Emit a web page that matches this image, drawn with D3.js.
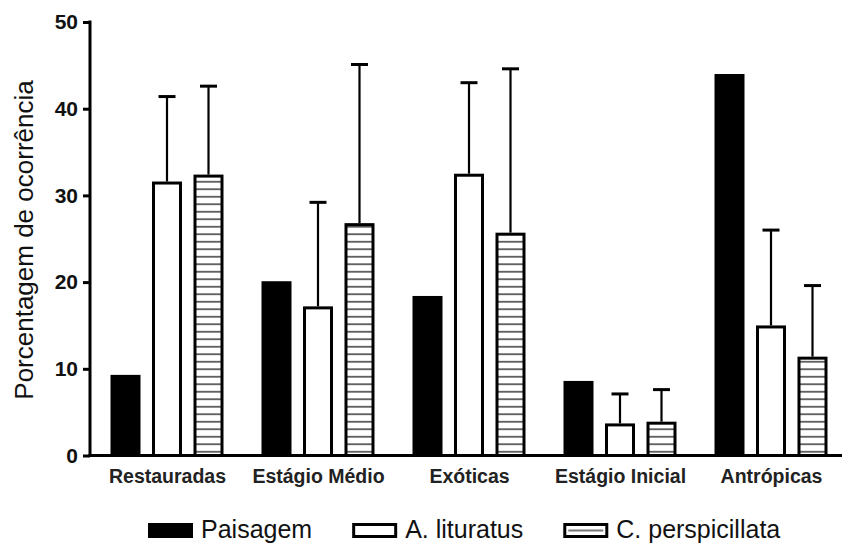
<!DOCTYPE html>
<html>
<head>
<meta charset="utf-8">
<script src="https://cdn.jsdelivr.net/npm/d3@7"></script>
<style>
  body { margin: 0; background: #fff; }
  svg { display: block; font-family: "Liberation Sans", Arial, sans-serif; }
</style>
</head>
<body>
<div id="chart"></div>
<script>
// data
const categories = ["Restauradas", "Estágio Médio", "Exóticas", "Estágio Inicial", "Antrópicas"];
const series = ["Paisagem", "A. lituratus", "C. perspicillata"];
const paisagem = [9.3, 20.1, 18.4, 8.6, 44.0];
const lituratus = [31.6, 17.2, 32.5, 3.7, 15.0];
const lituratusErr = [9.8, 12.0, 10.5, 3.4, 11.0];
const perspicillata = [32.4, 26.8, 25.7, 3.9, 11.4];
const perspicillataErr = [10.2, 18.3, 18.9, 3.7, 8.2];
const yTicks = [0, 10, 20, 30, 40, 50];
const yTitle = "Porcentagem de ocorrência";

const values = [paisagem, lituratus, perspicillata];
const errors = [null, lituratusErr, perspicillataErr];

const width = 842, height = 544;
const barW = 30;

const svg = d3.select("#chart").append("svg")
    .attr("width", width)
    .attr("height", height);

const defs = svg.append("defs");
const pat = defs.append("pattern")
    .attr("id", "hatch")
    .attr("patternUnits", "userSpaceOnUse")
    .attr("width", 10)
    .attr("height", 7.5)
    .attr("y", 455.5);
pat.append("rect").attr("width", 10).attr("height", 7.5).attr("fill", "#fff");
pat.append("line")
    .attr("x1", 0).attr("x2", 10)
    .attr("y1", 3.75).attr("y2", 3.75)
    .attr("stroke", "#5a5a5a")
    .attr("stroke-width", 1.8);

/* scales */
const x = d3.scaleBand()
    .domain(categories)
    .range([92, 847])
    .padding(0);

const xSub = d3.scaleBand()
    .domain(series)
    .range([18.5, 131.5])
    .paddingInner(0.277);

const y = d3.scaleLinear()
    .domain([0, 50])
    .range([455.5, 22]);

const fills = ["#000", "#fff", "url(#hatch)"];

/* bars */
const rows = [];
categories.forEach((c, i) => {
    series.forEach((s, j) => {
        rows.push({ cat: c, ser: s, j: j, v: values[j][i], e: errors[j] ? errors[j][i] : null });
    });
});

const bar = svg.append("g").selectAll("g")
    .data(rows)
    .enter().append("g");

bar.append("rect")
    .attr("x", d => x(d.cat) + xSub(d.ser) + (xSub.bandwidth() - barW) / 2 + 1.5)
    .attr("y", d => y(d.v) + 1.5)
    .attr("width", barW - 3)
    .attr("height", d => y(0) - y(d.v) - 1.5)
    .attr("fill", d => fills[d.j])
    .attr("stroke", "#000")
    .attr("stroke-width", 3);

// error bars, upper half only
const eb = bar.filter(d => d.e != null);
const cx = d => x(d.cat) + xSub(d.ser) + xSub.bandwidth() / 2;
eb.append("line")
    .attr("x1", cx).attr("x2", cx)
    .attr("y1", d => y(d.v))
    .attr("y2", d => y(d.v + d.e))
    .attr("stroke", "#000")
    .attr("stroke-width", 2.2);
eb.append("line")
    .attr("x1", d => cx(d) - 8.5).attr("x2", d => cx(d) + 8.5)
    .attr("y1", d => y(d.v + d.e))
    .attr("y2", d => y(d.v + d.e))
    .attr("stroke", "#000")
    .attr("stroke-width", 3);

/* axes */
const yAxis = svg.append("g")
    .attr("transform", "translate(90,0)")
    .call(d3.axisLeft(y).tickValues(yTicks).tickSize(7).tickPadding(5));
yAxis.select(".domain").remove();
yAxis.selectAll(".tick line").attr("stroke", "#000").attr("stroke-width", 3);
yAxis.selectAll(".tick text")
    .attr("fill", "#111")
    .style("font-size", "21px")
    .style("font-weight", "bold")
    .style("font-family", "'Liberation Sans', Arial, sans-serif");

svg.append("line")
    .attr("x1", 90).attr("x2", 90)
    .attr("y1", y(50) - 1.5).attr("y2", y(0) + 1.5)
    .attr("stroke", "#000").attr("stroke-width", 3);

svg.append("line")
    .attr("x1", 88.5).attr("x2", 842)
    .attr("y1", y(0)).attr("y2", y(0))
    .attr("stroke", "#000").attr("stroke-width", 3);

svg.append("g").selectAll("text")
    .data(categories)
    .enter().append("text")
    .attr("x", d => x(d) + x.bandwidth() / 2)
    .attr("y", 483)
    .attr("text-anchor", "middle")
    .attr("fill", "#222")
    .style("font-size", "19.5px")
    .style("font-weight", "bold")
    .text(d => d);

svg.append("text")
    .attr("transform", "translate(33,240) rotate(-90)")
    .attr("text-anchor", "middle")
    .attr("fill", "#111")
    .style("font-size", "26px")
    .text(yTitle);

/* legend */
const legend = svg.append("g");
let lx = 148;
series.forEach((s, j) => {
    const g = legend.append("g");
    if (j === 0) {
        g.append("rect").attr("x", lx).attr("y", 523).attr("width", 45).attr("height", 15).attr("fill", "#000");
    } else {
        g.append("rect").attr("x", lx + 1.5).attr("y", 524.5).attr("width", 42).attr("height", 12)
            .attr("fill", "#fff").attr("stroke", "#000").attr("stroke-width", 3);
        if (j === 2) {
            g.append("line").attr("x1", lx + 5).attr("x2", lx + 40).attr("y1", 530.5).attr("y2", 530.5)
                .attr("stroke", "#777").attr("stroke-width", 2);
        }
    }
    const t = g.append("text")
        .attr("x", lx + 53)
        .attr("y", 538)
        .attr("fill", "#111")
        .style("font-size", "25px")
        .text(s);
    lx = lx + 53 + t.node().getComputedTextLength() + 40;
});
</script>
</body>
</html>
